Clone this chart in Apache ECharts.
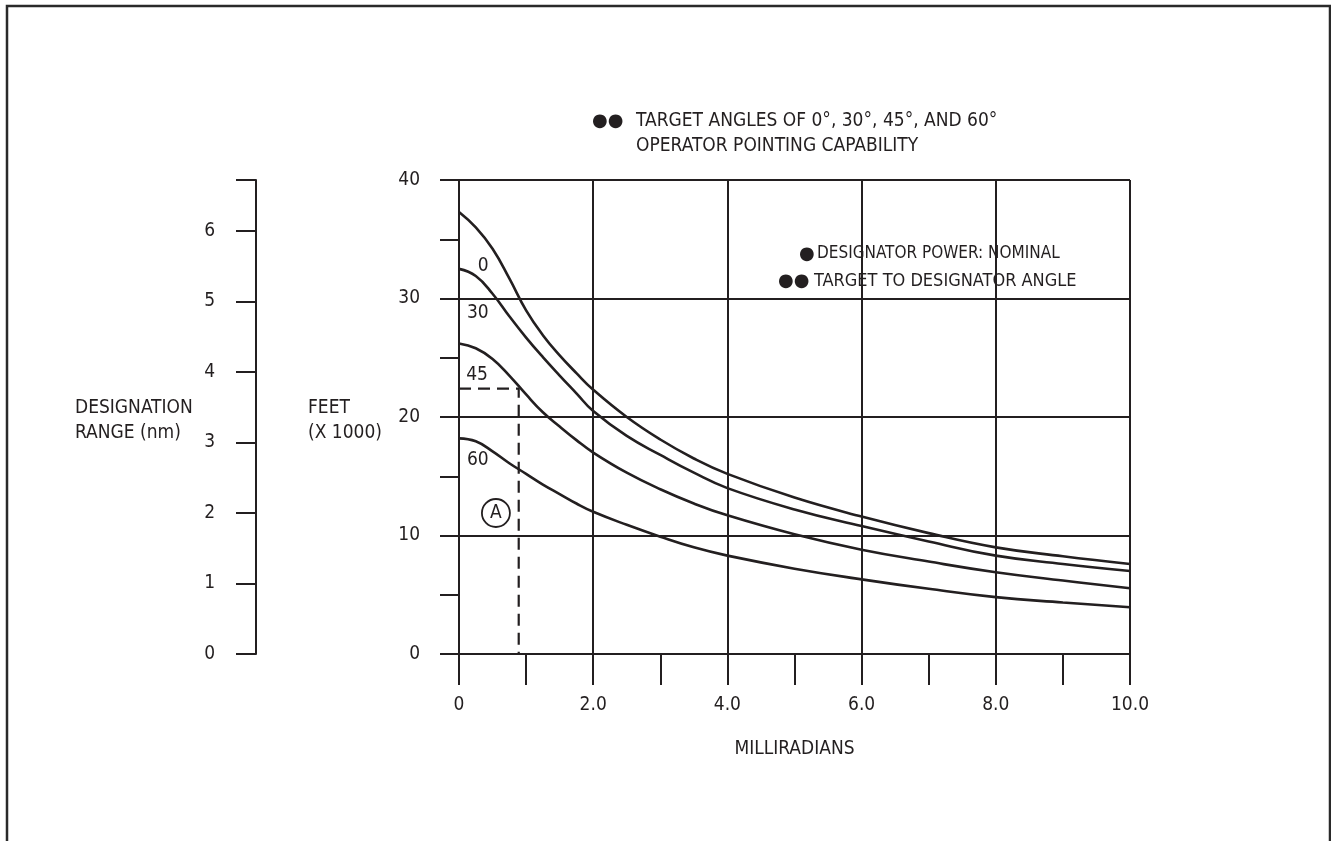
<!DOCTYPE html>
<html>
<head>
<meta charset="utf-8">
<script src="https://cdn.jsdelivr.net/npm/echarts@6/dist/echarts.min.js"></script>
<style>
html,body{margin:0;padding:0;background:#fff;}
#chart{width:1331px;height:841px;}
</style>
</head>
<body>
<div id="chart"></div>
<script>
// ---- data ----
const xMilliradians = [0, 0.25, 0.5, 0.75, 1.0, 1.25, 1.5, 1.75, 2, 2.5, 3, 3.5, 4, 5, 6, 7, 8, 9, 10];
const angle0  = [37.3, 36.0, 34.2, 31.7, 29.0, 26.9, 25.2, 23.7, 22.3, 20.0, 18.1, 16.5, 15.2, 13.2, 11.6, 10.2, 9.0, 8.25, 7.6];
const angle30 = [32.5, 31.9, 30.4, 28.5, 26.7, 25.05, 23.5, 22.0, 20.5, 18.4, 16.8, 15.3, 14.0, 12.2, 10.8, 9.5, 8.3, 7.6, 7.0];
const angle45 = [26.2, 25.8, 24.9, 23.5, 21.9, 20.4, 19.2, 18.05, 17.0, 15.3, 13.9, 12.7, 11.7, 10.1, 8.8, 7.8, 6.9, 6.2, 5.55];
const angle60 = [18.2, 17.95, 17.1, 16.1, 15.2, 14.3, 13.5, 12.7, 12.0, 10.9, 9.9, 9.0, 8.3, 7.2, 6.3, 5.5, 4.8, 4.35, 3.95];
const curveNames = ['0', '30', '45', '60'];
const curveLabelAt = [[0.36, 32.7], [0.28, 28.8], [0.27, 23.5], [0.28, 16.4]];
const exampleA = [[0, 22.4], [0.89, 22.4], [0.89, 0]];
const exampleAMarker = [0.55, 11.9];
const feetTicks = [0, 10, 20, 30, 40];
const nmLabels = [0, 1, 2, 3, 4, 5, 6];
const nmMax = 6.72;
const nmTicks = [0, 1, 2, 3, 4, 5, 6, nmMax];

const INK = '#231f20';
const FONT = '"Liberation Sans Narrow", "DejaVu Sans Condensed", sans-serif';
const FS = 19;

function pairs(ys){ return xMilliradians.map((x,i)=>[x, ys[i]]); }
const curves = [angle0, angle30, angle45, angle60];

const series = curves.map((ys, i) => ({
  type: 'line',
  name: curveNames[i],
  data: pairs(ys),
  smooth: 0.45,
  symbol: 'none',
  lineStyle: {color: INK, width: 2.6},
  z: 5,
  markPoint: {
    symbol: 'circle', symbolSize: 1,
    itemStyle: {color: 'rgba(0,0,0,0)'},
    label: {show: true, position: 'inside', formatter: curveNames[i], color: INK, fontFamily: FONT, fontSize: FS},
    data: [{coord: curveLabelAt[i]}]
  }
}));

series.push({
  type: 'line',
  name: 'A',
  data: exampleA,
  symbol: 'none',
  lineStyle: {color: INK, width: 2.2, type: [12, 7]},
  z: 4,
  markPoint: {
    symbol: 'circle', symbolSize: 28,
    itemStyle: {color: '#fff', borderColor: INK, borderWidth: 1.8},
    label: {show: true, position: 'inside', formatter: 'A', color: INK, fontFamily: FONT, fontSize: FS},
    data: [{coord: exampleAMarker}]
  }
});

const txt = (x, y, s, extra) => Object.assign({
  type: 'text', x: x, y: y,
  style: Object.assign({text: s, fill: INK, font: FS + 'px ' + FONT, textVerticalAlign: 'middle'}, extra || {})
});

const chart = echarts.init(document.getElementById('chart'), null, {renderer: 'canvas'});
chart.setOption({
  backgroundColor: '#fff',
  animation: false,
  grid: {left: 459, top: 180, width: 671, height: 474, show: false},
  xAxis: {
    type: 'value', min: 0, max: 10, interval: 2,
    name: 'MILLIRADIANS', nameLocation: 'middle', nameGap: 86,
    nameTextStyle: {color: INK, fontFamily: FONT, fontSize: FS},
    axisLine: {show: true, lineStyle: {color: INK, width: 2}},
    axisTick: {show: true, length: 31, lineStyle: {color: INK, width: 2}},
    minorTick: {show: true, splitNumber: 2, length: 31, lineStyle: {color: INK, width: 2}},
    axisLabel: {color: INK, fontFamily: FONT, fontSize: FS, margin: 42,
      formatter: v => v === 0 ? '0' : v.toFixed(1)},
    splitLine: {show: true, lineStyle: {color: INK, width: 2}}
  },
  yAxis: [
    {
      type: 'value', min: 0, max: 40, interval: 10,
      axisLine: {show: true, lineStyle: {color: INK, width: 2}},
      axisTick: {show: true, length: 19, lineStyle: {color: INK, width: 2}},
      minorTick: {show: true, splitNumber: 2, length: 19, lineStyle: {color: INK, width: 2}},
      axisLabel: {color: INK, fontFamily: FONT, fontSize: FS, margin: 39, customValues: feetTicks},
      splitLine: {show: true, lineStyle: {color: INK, width: 2}}
    },
    {
      type: 'value', min: 0, max: nmMax, position: 'left', offset: 203,
      axisLine: {show: true, lineStyle: {color: INK, width: 2}},
      axisTick: {show: true, length: 20, customValues: nmTicks, lineStyle: {color: INK, width: 2}},
      axisLabel: {color: INK, fontFamily: FONT, fontSize: FS, margin: 41, customValues: nmLabels},
      splitLine: {show: false}
    }
  ],
  series: series,
  graphic: [
    {type: 'rect', shape: {x: 7, y: 6, width: 1323, height: 900}, style: {fill: 'none', stroke: '#2a2a2a', lineWidth: 2.5}, silent: true},
    txt(592, 121, '●●', {font: '18px "DejaVu Sans"'}),
    txt(636, 121, 'TARGET ANGLES OF 0°, 30°, 45°, AND 60°'),
    txt(636, 146, 'OPERATOR POINTING CAPABILITY'),
    txt(799, 254, '●', {font: '18px "DejaVu Sans"'}),
    txt(817, 254, 'DESIGNATOR POWER: NOMINAL', {font: '17px ' + FONT}),
    txt(778, 281, '●●', {font: '18px "DejaVu Sans"'}),
    txt(814, 281, 'TARGET TO DESIGNATOR ANGLE', {font: '18px ' + FONT}),
    txt(75, 408, 'DESIGNATION'),
    txt(75, 433, 'RANGE (nm)'),
    txt(308, 408, 'FEET'),
    txt(308, 433, '(X 1000)')
  ]
});
</script>
</body>
</html>
